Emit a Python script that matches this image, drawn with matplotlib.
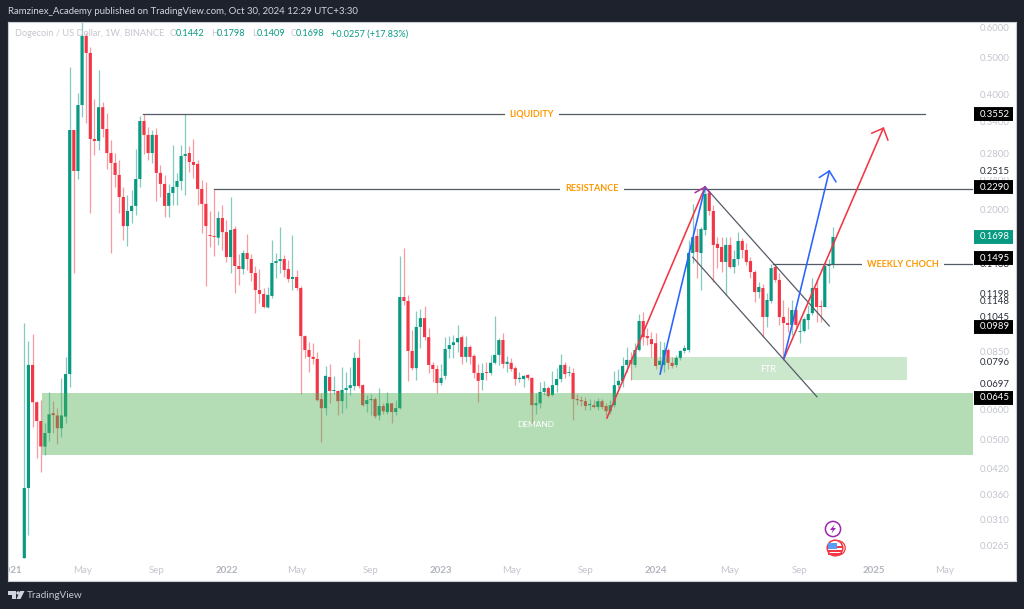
import numpy as np
import matplotlib
matplotlib.use('Agg')
import matplotlib.pyplot as plt
from matplotlib.patches import Circle, Polygon, Rectangle

# weekly DOGEUSD candles
opens = [.0245,.0374,.0785,.0627,.0560,.0480,.0521,.0587,.0579,.0536,
         .0575,.0743,.3234,.2526,.3760,.5700,.5146,.3064,.3027,.3710,
         .3254,.2815,.2652,.2467,.2160,.1813,.1985,.2047,.2407,.3414,
         .3140,.2815,.3140,.2497,.2337,.2047,.2213,.2295,.2378,.2766,
         .2815,.2667,.2636,.2267,.2072,.1718,.1708,.1690,.1903,.1748,
         .1504,.1781,.1425,.1399,.1541,.1486,.1366,.1233,.1204,.1110,
         .1190,.1451,.1468,.1486,.1399,.1318,.1334,.1248,.0934,.0859,
         .0824,.0814,.0639,.0605,.0730,.0671,.0671,.0631,.0675,.0683,
         .0691,.0819,.0695,.0620,.0635,.0639,.0579,.0613,.0591,.0623,
         .0591,.0605,.1182,.1154,.0854,.0770,.0987,.1041,.0928,.0785,
         .0766,.0704,.0735,.0864,.0885,.0900,.0928,.0824,.0875,.0829,
         .0748,.0717,.0752,.0748,.0795,.0834,.0912,.0790,.0795,.0770,
         .0721,.0721,.0739,.0726,.0616,.0623,.0667,.0683,.0655,.0695,
         .0721,.0785,.0748,.0748,.0639,.0635,.0631,.0616,.0616,.0609,
         .0631,.0613,.0594,.0616,.0695,.0713,.0785,.0809,.0785,.0859,
         .1023,.0934,.0917,.0895,.0785,.0785,.0859,.0795,.0785,.0819,
         .0854,.0859,.1541,.1708,.1541,.1770,.2213,.1985,.1628,.1598,
         .1460,.1618,.1416,.1486,.1657,.1569,.1468,.1374,.1218,.1248,
         .1048,.1154,.1416,.1310,.1048,.1011,.0999,.1093,.0958,.0963,
         .1029,.1073,.1248,.1120,.1113,.1425,.1442]
highs = [.1011,.0907,.0946,.0631,.0635,.0553,.0667,.0631,.0605,.0726,
         .0824,.4725,.3234,.4042,.7400,.5802,.5320,.3906,.4644,.3828,
         .3585,.3045,.2815,.2699,.2295,.2187,.2253,.2884,.3514,.3560,
         .3295,.3234,.3275,.2620,.2467,.2337,.2956,.2497,.2956,.3560,
         .2938,.3064,.2699,.2393,.2363,.1985,.2267,.1985,.2059,.1880,
         .2160,.1813,.1532,.1569,.1728,.1532,.1425,.1399,.1248,.1256,
         .1667,.1541,.1802,.1523,.1477,.1718,.1391,.1263,.0940,.0900,
         .0895,.0848,.0663,.0780,.0790,.0735,.0675,.0775,.0752,.0775,
         .0848,.0917,.0699,.0655,.0659,.0647,.0683,.0623,.0667,.0625,
         .0635,.1513,.1593,.1197,.0969,.1086,.1100,.1120,.0981,.0800,
         .0785,.0790,.0928,.0934,.0940,.0999,.0940,.0934,.0885,.0838,
         .0790,.0795,.0800,.0834,.1054,.0923,.0952,.0829,.0819,.0780,
         .0752,.0739,.0743,.0730,.0663,.0708,.0713,.0691,.0757,.0770,
         .0838,.0800,.0780,.0770,.0659,.0651,.0647,.0639,.0635,.0643,
         .0639,.0623,.0635,.0757,.0766,.0824,.0875,.0848,.0895,.1066,
         .1080,.0981,.0958,.0952,.0906,.0900,.0869,.0824,.0834,.0859,
         .0885,.1667,.2072,.1791,.1802,.2295,.2253,.2059,.1698,.1698,
         .1698,.1698,.1569,.1748,.1687,.1638,.1504,.1391,.1294,.1279,
         .1212,.1442,.1433,.1366,.1161,.1113,.1161,.1106,.1029,.1048,
         .1126,.1326,.1310,.1161,.1460,.1486,.1798]
lows = [.0245,.0281,.0540,.0448,.0412,.0456,.0496,.0521,.0487,.0508,
        .0553,.0688,.1366,.2407,.3500,.3372,.1960,.2780,.2867,.3100,
        .2556,.1541,.2295,.1960,.1667,.1608,.1847,.1938,.2295,.2798,
        .2699,.2652,.2108,.2160,.1915,.1915,.2059,.2059,.2253,.2187,
        .2511,.2422,.2059,.1738,.1263,.1598,.1513,.1618,.1569,.1460,
        .1366,.1212,.1271,.1358,.1391,.1302,.1073,.1141,.1106,.1106,
        .1175,.1326,.1366,.1334,.1294,.1233,.1233,.0659,.0819,.0752,
        .0790,.0630,.0493,.0579,.0623,.0659,.0579,.0587,.0605,.0655,
        .0675,.0683,.0613,.0591,.0579,.0570,.0563,.0583,.0583,.0553,
        .0579,.0603,.1126,.0713,.0761,.0717,.0869,.0912,.0748,.0708,
        .0663,.0695,.0721,.0819,.0819,.0848,.0790,.0800,.0790,.0726,
        .0627,.0675,.0717,.0739,.0790,.0785,.0770,.0752,.0757,.0695,
        .0708,.0688,.0717,.0546,.0583,.0605,.0655,.0647,.0651,.0667,
        .0708,.0726,.0735,.0563,.0616,.0613,.0598,.0598,.0605,.0598,
        .0602,.0576,.0583,.0609,.0683,.0688,.0752,.0717,.0775,.0855,
        .0885,.0885,.0824,.0766,.0748,.0752,.0766,.0770,.0775,.0809,
        .0843,.0848,.1451,.1326,.1233,.1718,.1938,.1294,.1407,.1374,
        .1197,.1407,.1366,.1433,.1495,.1433,.1326,.1147,.1175,.0928,
        .0987,.1141,.1294,.0999,.0809,.0958,.0940,.0981,.0895,.0958,
        .0975,.1060,.1016,.1016,.1110,.1287,.1409]
closes = [.0374,.0785,.0627,.0560,.0480,.0521,.0583,.0580,.0536,.0579,
          .0743,.3234,.2526,.3760,.5700,.5146,.3064,.3027,.3710,.3254,
          .2815,.2652,.2467,.2160,.1813,.1985,.2047,.2407,.3414,.3140,
          .2815,.3140,.2497,.2337,.2047,.2213,.2295,.2378,.2766,.2798,
          .2667,.2620,.2267,.2072,.1813,.1708,.1698,.1903,.1748,.1504,
          .1770,.1425,.1399,.1541,.1486,.1366,.1233,.1204,.1113,.1197,
          .1451,.1468,.1486,.1391,.1318,.1334,.1248,.0934,.0859,.0824,
          .0814,.0635,.0605,.0735,.0671,.0675,.0631,.0675,.0683,.0695,
          .0819,.0691,.0616,.0635,.0639,.0576,.0613,.0594,.0623,.0591,
          .0605,.1182,.1154,.0854,.0770,.0987,.1041,.0928,.0785,.0766,
          .0704,.0726,.0864,.0885,.0900,.0923,.0824,.0875,.0824,.0748,
          .0713,.0748,.0748,.0795,.0834,.0912,.0790,.0800,.0766,.0721,
          .0726,.0735,.0726,.0616,.0623,.0667,.0683,.0651,.0695,.0721,
          .0785,.0743,.0752,.0639,.0635,.0631,.0613,.0620,.0609,.0631,
          .0609,.0594,.0616,.0695,.0713,.0780,.0809,.0790,.0859,.1023,
          .0928,.0923,.0890,.0780,.0805,.0859,.0795,.0780,.0819,.0854,
          .0869,.1541,.1696,.1550,.1781,.2199,.1985,.1618,.1588,.1460,
          .1618,.1416,.1486,.1657,.1569,.1460,.1374,.1218,.1256,.1048,
          .1161,.1407,.1310,.1048,.1011,.0999,.1093,.0999,.0963,.1035,
          .1067,.1248,.1113,.1113,.1425,.1442,.1698]

# x axis, in bars
tick_bars = [-3.2, 14, 32, 49, 66, 84, 101, 118, 136, 153, 171, 188, 206, 223]
tick_names = ['2021', 'May', 'Sep', '2022', 'May', 'Sep', '2023', 'May', 'Sep',
              '2024', 'May', 'Sep', '2025', 'May']

# price scale labels
gray_prices = [.6, .5, .4, .34, .28, .24, .2, .085, .06, .05, .042, .036, .031, .0265]
dark_prices = [.2515, .1438, .1198, .1148, .1045, .0796, .0697]
black_prices = [.3552, .2290, .1495, .0989, .0645]
last_price = .1698

# drawn levels: start bar, end bar, price, label, label bar
levels = [(28.8, 218.3, .3552, 'LIQUIDITY', 123),
          (46, 229.7, .2268, 'RESISTANCE', 137.6),
          (181.5, 229.7, .1442, 'WEEKLY CHOCH', 213)]

# drawn lines
red_bars = [[141.2, 165], [184.1, 208.2]]
red_prices = [[.0570, .2295], [.0816, .3270]]
blue_bars = [[154.1, 165], [184.1, 195.1]]
blue_prices = [[.0743, .2295], [.0816, .2526]]
channel_bars = [[165, 195.1], [162, 192.1]]
channel_prices = [[.2295, .0993], [.1503, .0648]]

DARK = '#1e222d'
GREEN = '#089981'
RED = '#f23645'
SCALE_X = .9643
SCALE_SIZE = 6.9

plt.rcParams['font.family'] = 'Lato'

fig = plt.figure(figsize=(10.24, 6.09), dpi=100, facecolor=DARK)
ax = fig.add_axes([8 / 1024, 28 / 609, 1008 / 1024, 559 / 609], facecolor='white')
ax.set_yscale('log')
ax.set_xlim(-3.951, 240.35)
ax.set_ylim(.02135, .62)

o = np.array(opens)
h = np.array(highs)
l = np.array(lows)
c = np.array(closes)
bars = np.arange(len(o))
colors = np.where(c >= o, GREEN, RED)

ax.vlines(bars, l, h, colors=colors, linewidth=.9, alpha=.5, zorder=2)
bodies = ax.bar(bars, np.abs(c - o), bottom=np.minimum(o, c), width=.76, color=colors, linewidth=0, zorder=3)
for b in bodies:
    b.set_snap(False)

# zones sit over the candles
ax.fill_between([4.2, 229.9], .0457, .0664, color='#4caf50', alpha=.42, linewidth=0, zorder=4)
ax.fill_between([147, 213.9], .0717, .0822, color='#4caf50', alpha=.29, linewidth=0, zorder=4)
ax.text(124, .0549, 'DEMAND', color='white', fontsize=6, ha='center', va='center', zorder=5)
ax.text(180.3, .0766, 'FTR', color='white', fontsize=6.5, ha='center', va='center', zorder=5)

for start, end, price, name, at in levels:
    ax.plot([start, end], [price, price], color='#555b66', linewidth=.9, zorder=5)
    ax.text(at, price, name, color='#ff9800', fontsize=6.5, fontweight='bold', ha='center', va='center', zorder=6,
            bbox=dict(boxstyle='square,pad=.55', fc='white', ec='none'))

for xs, ys in zip(channel_bars, channel_prices):
    ax.plot(xs, ys, color='#555b66', linewidth=.9, zorder=5)
for xs, ys in zip(red_bars, red_prices):
    ax.plot(xs, ys, color=RED, linewidth=1.15, zorder=6)
for xs, ys in zip(blue_bars, blue_prices):
    ax.plot(xs, ys, color='#2962ff', linewidth=1.15, zorder=6)

# arrow heads
ax.plot([205.4, 208.2, 209.3], [.3172, .3270, .3045], color=RED, linewidth=1.1, zorder=6)
ax.plot([192.7, 195.1, 196.7], [.2430, .2526, .2368], color='#2962ff', linewidth=1.1, zorder=6)
ax.plot([162.6, 165, 166.3], [.2218, .2295, .2200], color='#a9359f', linewidth=1.1, zorder=6)

# price scale, drawn inside the white panel like the original
ax.set_yticks(gray_prices)
ax.set_yticklabels(['%.4f' % p for p in gray_prices])
ax.minorticks_off()
ax.yaxis.tick_right()
ax.tick_params(axis='y', length=0, pad=-26, labelsize=SCALE_SIZE, labelcolor='#c3c6ce')

ax.set_xticks(tick_bars)
ax.set_xticklabels(tick_names)
ax.tick_params(axis='x', length=0, pad=-11, labelsize=7, labelcolor='#c3c6ce')
for label in ax.get_xticklabels():
    label.set_clip_on(True)
    label.set_clip_box(ax.bbox)
    if label.get_text().isdigit():
        label.set_fontweight('bold')
        label.set_color('#b2b5be')

trans = ax.get_yaxis_transform()
for p in dark_prices:
    ax.text(SCALE_X, p, '%.4f' % p, transform=trans, color='#2a2e39', fontsize=SCALE_SIZE, va='center', zorder=7,
            bbox=dict(boxstyle='square,pad=.05', fc='white', ec='none'))
# value tags: a thick butt-ended line makes the 14 px tall box
for p in black_prices:
    ax.plot([.9583, .997], [p, p], transform=trans, color='black', linewidth=10, solid_capstyle='butt', zorder=8)
    ax.text(SCALE_X, p, '%.4f' % p, transform=trans, color='white', fontsize=SCALE_SIZE, va='center', zorder=9)
ax.plot([.9583, .997], [last_price, last_price], transform=trans, color=GREEN, linewidth=10, solid_capstyle='butt', zorder=8)
ax.text(SCALE_X, last_price, '%.4f' % last_price, transform=trans, color='white', fontsize=SCALE_SIZE, va='center', zorder=9)

for side in ax.spines.values():
    side.set_color('#c9ccd3')
    side.set_linewidth(.8)

# page furniture in image pixels
top = fig.add_axes([0, 0, 1, 1], facecolor='none')
top.set_xlim(0, 1024)
top.set_ylim(609, 0)
top.axis('off')

top.text(8, 12, 'Ramzinex_Academy published on TradingView.com, Oct 30, 2024 12:29 UTC+3:30',
         color='#d1d4dc', fontsize=6.9, va='center')

top.text(15, 34, 'Dogecoin / US Dollar, 1W, BINANCE', color='#c3c6ce', fontsize=6.6, va='center')
legend_bits = [(170, 'O', '#c3c6ce'), (176, '0.1442', GREEN), (211, 'H', '#c3c6ce'), (217, '0.1798', GREEN),
               (252, 'L', '#c3c6ce'), (257, '0.1409', GREEN), (291, 'C', '#c3c6ce'), (296, '0.1698', GREEN),
               (331, '+0.0257 (+17.83%)', GREEN)]
for x, s, col in legend_bits:
    top.text(x, 34, s, color=col, fontsize=6.6, va='center')

# TradingView logo
top.add_patch(Polygon([[8, 591], [16, 591], [16, 599], [12, 599], [12, 595], [8, 595]], fc='#d1d4dc', ec='none'))
top.add_patch(Circle((18, 593), 1.7, fc='#d1d4dc', ec='none'))
top.add_patch(Polygon([[20, 591], [24.5, 591], [20.5, 599], [16.5, 599]], fc='#d1d4dc', ec='none'))
top.text(27, 595, 'TradingView', color='#c3c6ce', fontsize=7.2, va='center')

# event icons
top.add_patch(Circle((833, 529), 7.6, fc='white', ec='#9c27b0', linewidth=1.1))
top.add_patch(Polygon([[834.5, 524.5], [830, 530], [832.8, 530], [831.5, 533.5], [836, 528], [833.2, 528]],
                      fc='#9c27b0', ec='none'))
top.add_patch(Circle((838, 548), 7.2, fc='white', ec=RED, linewidth=.9))
top.add_patch(Circle((835, 548), 7.8, fc='white', ec=RED, linewidth=1.1))
for y in [546, 550, 553]:
    top.add_patch(Rectangle((828, y), 14, 1.5, fc=RED, ec='none'))
top.add_patch(Rectangle((828, 542.5), 9, 6.5, fc='#5b9cf6', ec='none'))

fig.savefig('out.png', dpi=100, facecolor=DARK)
